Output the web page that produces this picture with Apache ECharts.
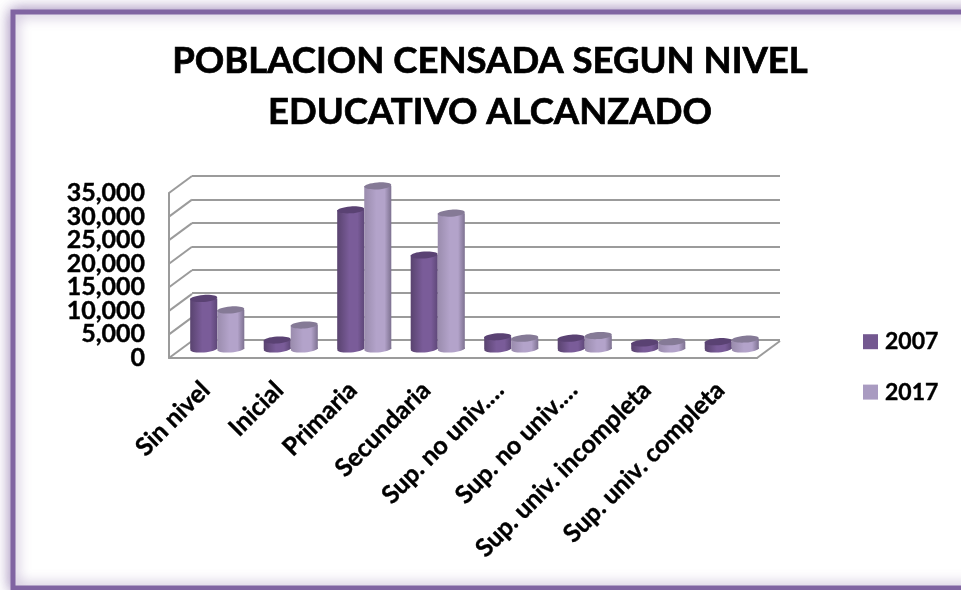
<!DOCTYPE html>
<html>
<head>
<meta charset="utf-8">
<title>Poblacion censada</title>
<script src="https://cdn.jsdelivr.net/npm/echarts@6/dist/echarts.min.js"></script>
<style>
  html, body { margin: 0; padding: 0; background: #fff; }
  #chart { width: 961px; height: 590px; }
</style>
</head>
<body>
<div id="chart"></div>
<script>
const categories = ['Sin nivel', 'Inicial', 'Primaria', 'Secundaria', 'Sup. no univ.…', 'Sup. no univ.…', 'Sup. univ. incompleta', 'Sup. univ. completa']
const values2007 = [10750, 1900, 29600, 20000, 2600, 2300, 1300, 1550]
const values2017 = [8300, 5100, 34700, 28900, 2300, 2850, 1550, 2100]
const wallTicks = [0, 5000, 10000, 15000, 20000, 25000, 30000, 35000]

const chart = echarts.init(document.getElementById('chart'), null, { renderer: 'canvas' })
const font = 'Lato'
const lineColor = '#9b9b9b'
const depthX = 23
const depthY = -17

const tickLabel = {
  margin: 24,
  fontFamily: font,
  fontWeight: 'bold',
  fontSize: 25,
  color: '#000',
  textBorderColor: '#000',
  textBorderWidth: 0.4,
  formatter: function (v) { return v.toLocaleString('en-US') }
}

// cilindro de una barra, side = -1 para 2007 y 1 para 2017
function cylinder(side, body, top) {
  return function (params, api) {
    const band = api.size([1, 0])[0]
    const w = band * 0.368
    const base = api.coord([api.value(0), 0])
    const head = api.coord([api.value(0), api.value(1)])
    const cx = base[0] + side * w / 2
    const fill = new echarts.graphic.LinearGradient(0, 0, 1, 0, [
      { offset: 0, color: body[0] },
      { offset: 0.45, color: body[1] },
      { offset: 0.75, color: body[1] },
      { offset: 1, color: body[2] }
    ])
    const tilt = 0.07
    return {
      type: 'group',
      children: [
        { type: 'ellipse', x: cx, y: base[1], rotation: tilt, shape: { cx: 0, cy: 0, rx: w / 2, ry: 3.5 }, style: { fill: fill } },
        { type: 'rect', shape: { x: cx - w / 2, y: head[1], width: w, height: base[1] - head[1] }, style: { fill: fill } },
        { type: 'ellipse', x: cx, y: head[1], rotation: tilt, shape: { cx: 0, cy: 0, rx: w / 2, ry: 3.5 }, style: { fill: top } }
      ]
    }
  }
}

// lineas inclinadas del piso y la pared izquierda
function wallEdges(params, api) {
  const p = api.coord([0, api.value(0)])
  const left = api.coord([0, 0])[0] - api.size([1, 0])[0] / 2
  const children = [{
    type: 'line',
    shape: { x1: left, y1: p[1], x2: left + depthX, y2: p[1] + depthY },
    style: { stroke: lineColor, lineWidth: 2 }
  }]
  if (api.value(0) === 0) {
    const right = left + api.size([1, 0])[0] * categories.length
    children.push({
      type: 'line',
      shape: { x1: right, y1: p[1], x2: right + depthX, y2: p[1] + depthY },
      style: { stroke: lineColor, lineWidth: 2 }
    })
  }
  return { type: 'group', children: children }
}

const option = {
  animation: false,
  title: {
    text: 'POBLACION CENSADA SEGUN NIVEL\nEDUCATIVO ALCANZADO',
    left: 485,
    top: 31,
    textAlign: 'center',
    textStyle: { fontFamily: font, fontWeight: 'bold', fontSize: 36.5, lineHeight: 51, color: '#000', textBorderColor: '#000', textBorderWidth: 0.7 }
  },
  legend: {
    data: ['2007', '2017'],
    orient: 'vertical',
    left: 858,
    top: 325,
    icon: 'rect',
    itemWidth: 15,
    itemHeight: 15,
    itemGap: 27,
    textStyle: { fontFamily: font, fontWeight: 'bold', fontSize: 23, color: '#000', padding: [0, 0, 0, 2], textBorderColor: '#000', textBorderWidth: 0.4 }
  },
  graphic: [{
    type: 'rect',
    z: -10,
    shape: { x: 13, y: 12, width: 990, height: 576 },
    style: { fill: '#fff', stroke: '#8064a2', lineWidth: 5, shadowBlur: 14, shadowColor: 'rgba(128,100,162,0.75)' }
  }],
  grid: [
    { left: 169, top: 193, width: 588, height: 165 },
    { left: 192, top: 176, width: 588, height: 164 },
    { left: 180.5, top: 184.5, width: 588, height: 164.5 }
  ],
  xAxis: [
    {
      gridIndex: 0,
      type: 'category',
      data: categories,
      axisTick: { show: false },
      axisLine: { lineStyle: { color: lineColor, width: 2 } },
      axisLabel: {
        interval: 0,
        rotate: 45,
        margin: 28,
        fontFamily: font,
        fontWeight: 'bold',
        fontSize: 25,
        color: '#000',
        textBorderColor: '#000',
        textBorderWidth: 0.4
      }
    },
    { gridIndex: 1, type: 'category', data: categories, show: false },
    { gridIndex: 2, type: 'category', data: categories, show: false }
  ],
  yAxis: [
    {
      gridIndex: 0,
      type: 'value',
      position: 'left',
      min: 0,
      max: 35000,
      interval: 5000,
      splitLine: { show: false },
      axisTick: { show: false },
      axisLine: { show: true, lineStyle: { color: lineColor, width: 2 } },
      axisLabel: Object.assign({}, tickLabel, { showMinLabel: false, showMaxLabel: false })
    },
    {
      gridIndex: 1,
      type: 'value',
      min: 0,
      max: 35000,
      interval: 5000,
      axisLine: { show: false },
      axisTick: { show: false },
      axisLabel: { show: false },
      splitLine: { lineStyle: { color: lineColor, width: 2 } }
    },
    { gridIndex: 2, type: 'value', min: 0, max: 35000, show: false },
    // segundo eje solo para 0 y 35,000, el primero los oculta por solape
    {
      gridIndex: 0,
      type: 'value',
      position: 'left',
      min: 0,
      max: 35000,
      interval: 35000,
      splitLine: { show: false },
      axisTick: { show: false },
      axisLine: { show: false },
      axisLabel: tickLabel
    }
  ],
  series: [
    {
      type: 'custom',
      xAxisIndex: 0,
      yAxisIndex: 0,
      silent: true,
      clip: false,
      data: wallTicks,
      encode: { y: 0 },
      renderItem: wallEdges
    },
    {
      name: '2007',
      type: 'custom',
      xAxisIndex: 2,
      yAxisIndex: 2,
      clip: false,
      itemStyle: { color: '#735890' },
      data: values2007.map((v, i) => [i, v]),
      encode: { x: 0, y: 1 },
      renderItem: cylinder(-1, ['#59436f', '#7a5c99', '#5e4778'], '#5a4273')
    },
    {
      name: '2017',
      type: 'custom',
      xAxisIndex: 2,
      yAxisIndex: 2,
      clip: false,
      itemStyle: { color: '#a99bc1' },
      data: values2017.map((v, i) => [i, v]),
      encode: { x: 0, y: 1 },
      renderItem: cylinder(1, ['#9a8cad', '#b3a3ca', '#7d7190'], '#857a96')
    }
  ]
}

chart.setOption(option)
</script>
</body>
</html>
